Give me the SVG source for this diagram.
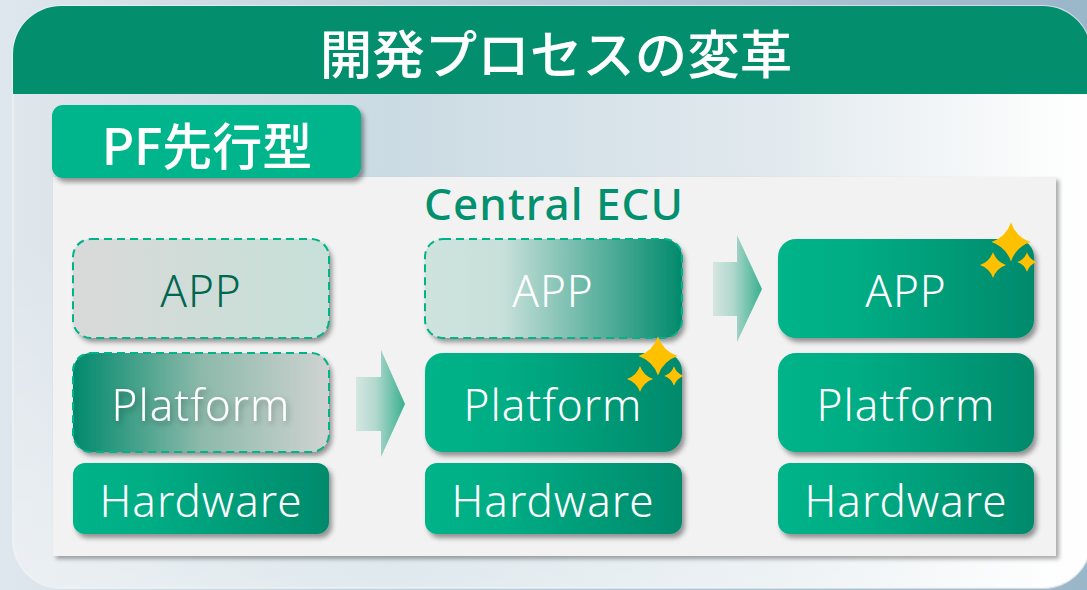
<svg xmlns="http://www.w3.org/2000/svg" width="1087" height="590" viewBox="0 0 1087 590">
<style>
text{font-family:"Noto Sans","Open Sans","Noto Sans CJK JP",sans-serif;text-anchor:middle}
.l{font-size:44px;font-weight:300;fill:#fff;letter-spacing:1px}
.j{font-family:"Noto Sans CJK JP","Noto Sans",sans-serif}
.s{fill:#ffc000}
.d{fill:none;stroke:#00b388;stroke-width:2;stroke-dasharray:8 5}
</style>
<defs>
<linearGradient id="bg" x1="0" y1="0" x2="1" y2="0"><stop offset="0" stop-color="#dfe7ee"/><stop offset=".4" stop-color="#bccfda"/><stop offset="1" stop-color="#9ab6c9"/></linearGradient>
<linearGradient id="card" x1="0" y1=".5" x2="1" y2=".5"><stop offset="0" stop-color="#dfe6ec"/><stop offset=".35" stop-color="#cbdbe3"/><stop offset=".7" stop-color="#e1e9ee"/><stop offset=".95" stop-color="#fbfcfc"/><stop offset="1" stop-color="#ffffff"/></linearGradient>
<linearGradient id="veil" x1="0" y1="0" x2="0" y2="1"><stop offset=".4" stop-color="#fff" stop-opacity="0"/><stop offset="1" stop-color="#fff" stop-opacity=".4"/></linearGradient>
<linearGradient id="grn"><stop offset="0" stop-color="#00b388"/><stop offset=".3" stop-color="#00ad84"/><stop offset="1" stop-color="#008a6c"/></linearGradient>
<linearGradient id="app1"><stop offset="0" stop-color="#d9d9d9"/><stop offset="1" stop-color="#c6e0d8"/></linearGradient>
<linearGradient id="pf1"><stop offset="0" stop-color="#008a6c"/><stop offset=".5" stop-color="#8cb9aa"/><stop offset="1" stop-color="#cfd3d1"/></linearGradient>
<linearGradient id="app2"><stop offset="0" stop-color="#cfe3dd"/><stop offset=".3" stop-color="#c8e0da"/><stop offset="1" stop-color="#008a6c"/></linearGradient>
<linearGradient id="arr"><stop offset="0" stop-color="#d5e6e1"/><stop offset=".4" stop-color="#b2d8cd"/><stop offset="1" stop-color="#38b08f"/></linearGradient>
<filter id="sh" x="-10%" y="-15%" width="125%" height="135%"><feDropShadow dx="3" dy="4" stdDeviation="2.5" flood-color="#000" flood-opacity=".4"/></filter>
<filter id="ps" x="-5%" y="-5%" width="110%" height="110%"><feDropShadow dx="3" dy="3" stdDeviation="2" flood-color="#000" flood-opacity=".34"/></filter>
<filter id="ts" x="-10%" y="-20%" width="120%" height="150%"><feDropShadow dx="2" dy="3" stdDeviation="3" flood-color="#000" flood-opacity=".3"/></filter>
<path id="star" d="M0-19.5Q5-5 19.5 0Q5 5 0 19.5Q-5 5-19.5 0Q-5-5 0-19.5Z"/>
</defs>
<rect width="1087" height="590" fill="url(#bg)"/>
<g id="card-panel">
<rect x="13" y="6" width="1078" height="582" rx="48" fill="url(#card)"/>
<rect x="13" y="6" width="1078" height="582" rx="48" fill="url(#veil)" stroke="#f2f5f7" stroke-opacity=".6" stroke-width="2"/>
<path d="M13 94V54A48 48 0 0 1 61 6H1043A48 48 0 0 1 1091 54V94Z" fill="#038f6e"/>
<text class="j" x="556" y="74" font-size="52.5" font-weight="500" fill="#fff">開発プロセスの変革</text>
</g>
<g id="main-panel"><rect x="53" y="177" width="1003" height="379" fill="#f2f2f2" filter="url(#ps)"/></g>
<g id="pf-tag">
<rect x="52" y="105" width="309" height="73" rx="11" fill="#03b58b" filter="url(#sh)"/>
<text class="j" x="207" y="165" font-size="50" font-weight="500" fill="#fff">PF先行型</text>
</g>
<text id="central-ecu" x="554" y="220" font-size="44" font-weight="500" fill="#03906f" letter-spacing="1">Central ECU</text>
<g id="connectors">
<path d="M356 377H381V350L405 404L381 457V431H356Z" fill="url(#arr)"/>
<path d="M713 262H737V235L762 289L737 342V316H713Z" fill="url(#arr)"/>
</g>
<g id="app-1">
<rect x="73" y="239" width="256" height="99" rx="18" fill="url(#app1)" filter="url(#sh)"/>
<rect x="73" y="239" width="256" height="99" rx="18" class="d"/>
<text class="l" x="201" y="307" style="fill:#00664f">APP</text>
</g>
<g id="platform-1">
<rect x="73" y="353" width="256" height="99" rx="18" fill="url(#pf1)" filter="url(#sh)"/>
<rect x="73" y="353" width="256" height="99" rx="18" class="d"/>
<text class="l" x="201" y="421" filter="url(#ts)">Platform</text>
</g>
<g id="hardware-1">
<rect x="73" y="463" width="256" height="71" rx="12" fill="url(#grn)" filter="url(#sh)"/>
<text class="l" x="201" y="517">Hardware</text>
</g>
<g id="app-2">
<rect x="425" y="239" width="257" height="99" rx="18" fill="url(#app2)" filter="url(#sh)"/>
<rect x="425" y="239" width="257" height="99" rx="18" class="d"/>
<text class="l" x="553" y="307">APP</text>
</g>
<g id="platform-2">
<rect x="425" y="353" width="257" height="99" rx="18" fill="url(#grn)" filter="url(#sh)"/>
<text class="l" x="553" y="421">Platform</text>
</g>
<g id="hardware-2">
<rect x="425" y="463" width="257" height="71" rx="12" fill="url(#grn)" filter="url(#sh)"/>
<text class="l" x="553" y="517">Hardware</text>
</g>
<g id="app-3">
<rect x="778" y="239" width="256" height="99" rx="18" fill="url(#grn)" filter="url(#sh)"/>
<text class="l" x="906" y="307">APP</text>
</g>
<g id="platform-3">
<rect x="778" y="353" width="256" height="99" rx="18" fill="url(#grn)" filter="url(#sh)"/>
<text class="l" x="906" y="421">Platform</text>
</g>
<g id="hardware-3">
<rect x="778" y="463" width="256" height="71" rx="12" fill="url(#grn)" filter="url(#sh)"/>
<text class="l" x="906" y="517">Hardware</text>
</g>
<g id="sparkle-2" class="s">
<use href="#star" transform="translate(658 356)"/>
<use href="#star" transform="translate(640 379) scale(.67)"/>
<use href="#star" transform="translate(674 376) scale(.5)"/>
</g>
<g id="sparkle-3" class="s">
<use href="#star" transform="translate(1011 242)"/>
<use href="#star" transform="translate(993 265) scale(.67)"/>
<use href="#star" transform="translate(1027 262) scale(.5)"/>
</g>
</svg>
